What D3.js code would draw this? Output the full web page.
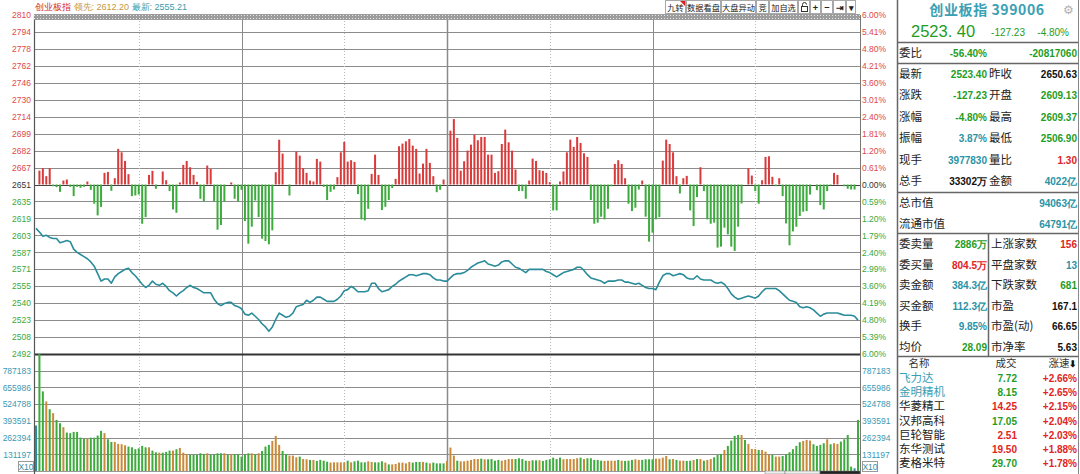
<!DOCTYPE html>
<html>
<head>
<meta charset="utf-8">
<script src="https://cdn.jsdelivr.net/npm/d3@7"></script>
<style>
  body { margin: 0; background: #fff; overflow: hidden; }
  svg text { font-family: "Liberation Sans", Arial, sans-serif; }
  svg text.cn { font-family: "Noto Sans CJK SC", sans-serif; }
</style>
</head>
<body>
<div id="chart"></div>
<script>
// ---------------- data ----------------
const prevClose = 2650.63;

// price axis labels, top to bottom
const leftLabels = ['2810','2794','2778','2762','2746','2730','2714','2699','2682','2667','2651',
                    '2635','2619','2603','2587','2571','2555','2540','2523','2508','2492'];
const rightLabels = ['6.00%','5.41%','4.80%','4.21%','3.60%','3.01%','2.40%','1.81%','1.20%','0.61%','0.00%',
                     '0.59%','1.20%','1.79%','2.40%','2.99%','3.60%','4.19%','4.80%','5.39%','6.00%'];
const volLabels = ['787183','655986','524788','393591','262394','131197'];

// one value per minute, 09:30 .. 15:00 (241 points)
const price = [
  2609.5,2606,2602,2603,2601,2600,2600,2596,2597,2598,2597,2590,2587,2585,2583,2581,2578,2574,2567,2560,
  2562,2562,2558,2564,2567,2569,2571,2572,2568,2565,2561,2557,2554,2556,2560,2557,2556,2558,2555,2551,
  2549,2546,2549,2551,2554,2556,2554,2553,2551,2549,2549,2549,2543,2539,2537,2539,2540,2540,2537,2536,
  2534,2529,2528,2530,2527,2524,2520,2517,2513,2517,2524,2530,2528,2526,2527,2530,2536,2537,2538,2542,
  2540,2542,2545,2545,2543,2541,2541,2541,2543,2546,2551,2552,2555,2553,2550,2550,2550,2551,2558,2558,
  2553,2550,2551,2552,2555,2557,2560,2562,2564,2566,2566,2565,2566,2567,2567,2566,2563,2561,2561,2560,
  2560,2563,2566,2567,2567,2568,2570,2573,2575,2577,2578,2579,2576,2575,2574,2575,2578,2579,2579,2576,
  2573,2572,2570,2568,2571,2571,2571,2571,2571,2569,2568,2566,2564,2566,2568,2569,2570,2571,2573,2573,
  2570,2566,2563,2562,2561,2560,2558,2560,2560,2560,2561,2561,2559,2559,2558,2557,2558,2556,2554,2553,
  2553,2552,2559,2565,2567,2567,2565,2566,2567,2566,2563,2562,2562,2565,2562,2561,2561,2561,2559,2558,
  2559,2557,2553,2548,2545,2543,2544,2545,2546,2545,2544,2546,2550,2553,2553,2553,2553,2551,2548,2545,
  2542,2541,2540,2536,2535,2536,2535,2533,2530,2527,2529,2530,2530,2530,2530,2529,2528,2528,2528,2527,
  2523.4
];

// red / green strength bars, index points above / below the previous close
const force = [
  0,13,15.4,7.8,15.4,-1.6,-2.5,-6.9,3.7,4.7,-2.2,-10.9,-2.2,-3.1,-2.2,2.8,-5,-18,-29,-21,
  10.9,11.8,-5.9,5.9,33.4,30.2,22.1,9.7,-10.9,-10.3,-9.4,-36.8,-30.6,9,12.8,-4,0,12.2,4,-6.2,
  -23.4,-26.5,1.9,18.4,22.1,16.2,9,2.5,-13.4,-15.9,17.8,14.6,-15.9,-42.4,-38,-15.9,0,1.9,-13.4,-15.9,
  -5,-34.3,-55.5,-39.6,-15,-30.6,-50.8,-53,-56.1,-43,11.5,42,29,0,-10.3,0,30.9,27.1,15.3,10.9,
  3.7,2.8,24,21.5,-2.2,-14.6,-6.9,-4.7,6.9,30.2,40,21.5,22.8,21.2,-9,-32.7,-33.7,-22.8,10,28,
  9,-24,-20.9,-14.6,-3.4,5.3,35.9,38.4,40.5,42.7,36.5,33.4,10.3,19.6,33.4,20.3,7.8,-7.2,-5,4.7,
  0,50.5,61.4,43.7,13,21.8,31.8,37.4,46.8,41.5,44.6,44.6,28,28,10.9,12.5,38,51.5,39.6,31.8,
  14,-6.2,-6.2,-13.4,3.7,24.3,22.1,13.4,12.8,10.9,2.2,-24.3,-24.3,2.8,12.2,30.2,42.1,35.3,44.6,39,
  29.3,25.9,-14.6,-36.8,-35.8,-30.2,-32.7,-22.8,-1.6,19.3,22.8,19.3,5.9,-18,-24.9,-21.8,-4.7,3.7,-30.2,-53.6,
  -45.2,-32.7,-30.6,22.4,42.1,38,30.2,7.8,-8.4,5.9,8.1,-24.3,-39,-11.8,16.2,-6.2,-32.7,-36.8,-35.8,-59.2,
  -58.3,-40.5,-46.8,-58.3,-62.3,-39.6,-17.8,0,15.3,8.4,-6.2,-18,4,25.9,26.5,7.2,-1.6,5.9,-10.9,-36.5,
  -57,-44,-39.6,-29.6,-25.5,-24.9,-9.4,0,-5.3,-19.3,-23.4,-6.2,-0.9,10.9,9,0,-1.6,-4,-4.7,-4.7,
  0
];

// volume per minute, thousands (axis shows x10)
const volume = [
  357,918,625,546,485,454,401,375,344,302,297,307,307,262,252,252,262,262,278,315,
  297,249,228,228,213,210,202,192,186,171,178,197,186,186,160,147,144,144,150,160,
  160,171,181,144,134,126,126,126,139,134,139,126,131,139,139,139,126,131,131,131,
  113,131,139,139,131,139,157,192,205,236,276,205,157,134,121,121,108,113,94,92,
  87,87,79,87,81,73,66,68,68,68,68,81,68,76,81,68,68,76,71,68,
  68,76,66,52,52,55,66,66,60,71,66,71,71,71,66,60,66,60,60,60,
  79,184,121,81,76,76,81,87,94,94,97,92,92,94,81,87,81,87,94,94,
  94,100,94,81,79,84,84,84,79,87,92,105,94,105,92,94,94,94,100,105,
  94,100,100,87,87,81,79,81,81,81,87,81,79,81,87,92,87,87,92,92,
  92,97,97,105,118,92,94,87,81,81,79,81,87,94,94,81,87,94,108,126,
  134,165,197,239,276,283,283,244,213,173,173,165,165,152,126,126,113,113,118,131,
  147,171,197,226,236,244,239,210,197,205,218,249,210,218,213,231,249,283,34,21,
  401
];
// 1 = up minute, -1 = down minute, 0 = flat
const volDir = [
  0,-1,-1,1,-1,1,-1,-1,1,-1,-1,-1,-1,-1,-1,1,-1,-1,-1,-1,
  1,-1,-1,1,1,1,1,-1,-1,-1,-1,-1,-1,1,-1,-1,1,-1,-1,-1,
  1,-1,1,1,1,-1,-1,-1,-1,-1,1,-1,-1,-1,-1,1,-1,1,-1,-1,
  -1,-1,-1,1,-1,1,-1,-1,-1,1,1,1,-1,-1,1,1,1,-1,1,1,
  -1,1,-1,-1,-1,-1,1,1,1,1,1,-1,1,-1,-1,-1,-1,1,1,-1,
  -1,-1,1,-1,1,1,1,1,1,1,-1,-1,-1,1,-1,1,-1,-1,-1,-1,
  1,1,1,-1,1,1,1,1,1,1,-1,1,-1,-1,-1,-1,1,1,1,1,
  -1,-1,-1,-1,1,-1,-1,1,-1,-1,-1,-1,-1,-1,1,1,1,1,1,-1,
  1,-1,-1,-1,-1,-1,1,1,1,1,-1,1,-1,-1,-1,1,1,-1,-1,-1,
  -1,1,1,1,1,-1,1,-1,1,1,-1,-1,1,-1,1,-1,1,1,-1,-1,
  -1,1,-1,-1,-1,-1,1,-1,1,1,1,-1,1,1,1,-1,1,1,-1,-1,
  -1,-1,-1,-1,1,1,1,-1,-1,-1,-1,1,-1,1,1,-1,-1,-1,-1,0,
  -1
];

const headName = '创业板指', headLeader = '领先: 2612.20', headLast = '最新: 2555.21';
const toolButtons = ['九转','数据看盘','大盘异动','竞','加自选','','+','−','⇥','▾'];

// quote panel
const quoteTitle = '创业板指 399006';
const quoteLast = '2523. 40', quoteChg = '-127.23', quotePct = '-4.80%';
const weibi = ['委比', '-56.40%', '-20817060'];
const quoteRows = [
  ['最新','2523.40','down','昨收','2650.63','plain'],
  ['涨跌','-127.23','down','开盘','2609.13','down'],
  ['涨幅','-4.80%','down','最高','2609.37','down'],
  ['振幅','3.87%','info','最低','2506.90','down'],
  ['现手','3977830','info','量比','1.30','up'],
  ['总手','33302万','plain','金额','4022亿','info']
];
const capRows = [['总市值','94063亿'], ['流通市值','64791亿']];
const orderRows = [
  ['委卖量','2886万','down','上涨家数','156','up'],
  ['委买量','804.5万','up','平盘家数','13','info'],
  ['卖金额','384.3亿','info','下跌家数','681','down'],
  ['买金额','112.3亿','info','市盈','167.1','plain'],
  ['换手','9.85%','info','市盈(动)','66.65','plain'],
  ['均价','28.09','down','市净率','5.63','plain']
];
const listHeader = ['名称','成交','涨速'];
const stockNames  = ['飞力达','金明精机','华菱精工','汉邦高科','巨轮智能','东华测试','麦格米特'];
const stockPrices = ['7.72','8.15','14.25','17.05','2.51','19.50','29.70'];
const stockSpeeds = ['+2.66%','+2.65%','+2.15%','+2.04%','+2.03%','+1.88%','+1.78%'];
const stockPriceDir = ['down','down','up','down','up','up','down'];
const stockWatched = [true, true, false, false, false, false, false];

// ---------------- drawing ----------------
const W = 1080, H = 474;
const C = {
  up: '#e02424', down: '#1f9d1f', info: '#2a93a6', plain: '#111',
  grid: '#8c8c8c', line: '#2a8c9a', barUp: '#d93a3a', barDown: '#3dab3d',
  volUp: '#c98a3a', volDown: '#3dab3d', volFlat: '#2a8aa0'
};

const svg = d3.select('#chart').append('svg')
  .attr('width', W).attr('height', H)
  .style('display', 'block');

const plotL = 34, plotR = 860, priceTop = 15, priceBot = 354, volBot = 471;

const x = d3.scaleLinear().domain([0, 240]).range([36, 858]);
const yP = d3.scaleLinear().domain([prevClose * 0.94, prevClose * 1.06]).range([priceBot, priceTop]);
const yV = d3.scaleLinear().domain([0, 7 * 131.197]).range([volBot, priceBot]);

const levels = d3.range(10, -11, -1).map(k => prevClose * (1 + k * 0.006));
const volLevels = volLabels.map(d => +d / 1000);

// grid
const grid = svg.append('g');
grid.selectAll('line.h').data(levels).join('line')
  .attr('x1', plotL).attr('x2', plotR)
  .attr('y1', d => Math.round(yP(d)) + 0.5).attr('y2', d => Math.round(yP(d)) + 0.5)
  .attr('stroke', (d, i) => i === 10 ? '#444' : C.grid).attr('stroke-width', 1);
grid.selectAll('line.v').data(volLevels).join('line')
  .attr('x1', plotL).attr('x2', plotR)
  .attr('y1', d => Math.round(yV(d)) + 0.5).attr('y2', d => Math.round(yV(d)) + 0.5)
  .attr('stroke', C.grid);

// time grid: solid on the hour, dotted on the half hour
const timeMarks = [30, 60, 90, 120, 150, 180, 210];
grid.selectAll('line.t').data(timeMarks).join('line')
  .attr('x1', d => Math.round(x(d)) + 0.5).attr('x2', d => Math.round(x(d)) + 0.5)
  .attr('y1', priceTop).attr('y2', volBot)
  .attr('stroke', d => d % 60 === 0 ? '#8a8a8a' : '#b8b8b8')
  .attr('stroke-width', d => d === 120 ? 1.5 : 1)
  .attr('stroke-dasharray', d => d % 60 === 0 ? null : '1,2');

// panel divider and borders
svg.append('line').attr('x1', plotL).attr('x2', plotR).attr('y1', priceBot + 0.5).attr('y2', priceBot + 0.5)
  .attr('stroke', '#333').attr('stroke-width', 2);
svg.append('line').attr('x1', plotL).attr('x2', plotR).attr('y1', volBot + 0.5).attr('y2', volBot + 0.5)
  .attr('stroke', '#999');
svg.append('line').attr('x1', plotL + 0.5).attr('x2', plotL + 0.5).attr('y1', priceTop).attr('y2', H)
  .attr('stroke', '#555').attr('stroke-width', 1.2);
svg.append('line').attr('x1', plotR + 0.5).attr('x2', plotR + 0.5).attr('y1', priceTop).attr('y2', H)
  .attr('stroke', '#777');
// dotted top border band
svg.append('rect').attr('x', plotL).attr('y', 14).attr('width', plotR - plotL).attr('height', 6).attr('fill', '#9c9c9c');
[15.5, 18.5].forEach(yy => svg.append('line').attr('x1', plotL).attr('x2', plotR)
  .attr('y1', yy).attr('y2', yy).attr('stroke', '#e8e8e8').attr('stroke-dasharray', '1,2'));

// strength bars
svg.append('g').selectAll('rect').data(force).join('rect')
  .attr('x', (d, i) => x(i) - 1)
  .attr('y', d => Math.min(yP(prevClose + d), yP(prevClose)))
  .attr('width', 2)
  .attr('height', d => Math.abs(yP(prevClose + d) - yP(prevClose)))
  .attr('fill', d => d >= 0 ? C.barUp : C.barDown);

// volume bars
svg.append('g').selectAll('rect').data(volume).join('rect')
  .attr('x', (d, i) => x(i) - 1)
  .attr('y', d => yV(d))
  .attr('width', 2)
  .attr('height', d => yV(0) - yV(d))
  .attr('fill', (d, i) => volDir[i] > 0 ? C.volUp : volDir[i] < 0 ? C.volDown : C.volFlat);

// price line
svg.append('path').datum(price)
  .attr('fill', 'none').attr('stroke', C.line).attr('stroke-width', 1.6)
  .attr('stroke-linejoin', 'round')
  .attr('d', d3.line().x((d, i) => x(i)).y(d => yP(d)));

// axes
const levelColor = i => i < 10 ? '#e0484a' : i === 10 ? '#333' : '#3aa83a';
const axL = svg.append('g').attr('transform', `translate(${plotL - 1},0)`)
  .call(d3.axisLeft(yP).tickValues(levels).tickFormat((d, i) => leftLabels[i]).tickSize(0).tickPadding(2));
const axR = svg.append('g').attr('transform', `translate(${plotR + 1},0)`)
  .call(d3.axisRight(yP).tickValues(levels).tickFormat((d, i) => rightLabels[i]).tickSize(0).tickPadding(1));
[axL, axR].forEach(ax => {
  ax.select('.domain').remove();
  ax.selectAll('text').attr('font-size', 8.5).attr('font-family', '"Liberation Sans", Arial, sans-serif')
    .attr('fill', (d, i) => levelColor(i));
});
const vaL = svg.append('g').attr('transform', `translate(${plotL - 1},0)`)
  .call(d3.axisLeft(yV).tickValues(volLevels).tickFormat((d, i) => volLabels[i]).tickSize(0).tickPadding(2));
const vaR = svg.append('g').attr('transform', `translate(${plotR + 1},0)`)
  .call(d3.axisRight(yV).tickValues(volLevels).tickFormat((d, i) => volLabels[i]).tickSize(0).tickPadding(1));
[vaL, vaR].forEach(ax => {
  ax.select('.domain').remove();
  ax.selectAll('text').attr('font-size', 8.5).attr('font-family', '"Liberation Sans", Arial, sans-serif')
    .attr('fill', '#3a9ab4');
});

// "X10" boxes
[18, 862].forEach(bx => {
  svg.append('rect').attr('x', bx + 0.5).attr('y', 461.5).attr('width', 15).attr('height', 10)
    .attr('fill', '#fff').attr('stroke', '#999');
  svg.append('text').attr('x', bx + 8).attr('y', 470).attr('text-anchor', 'middle')
    .attr('font-size', 8.5).attr('fill', '#3a8aa0').text('X10');
});
// cursor time boxes at the bottom edge
[[765, 20, '#eee'], [785, 35, '#eee'], [820, 40, '#222']].forEach(([bx, bw, f]) =>
  svg.append('rect').attr('x', bx).attr('y', 471).attr('width', bw).attr('height', 3)
    .attr('fill', f).attr('stroke', '#777').attr('stroke-width', 0.5));

// header line of the chart
const head = svg.append('text').attr('x', 35).attr('y', 10).attr('font-size', 9);
head.append('tspan').attr('class', 'cn').attr('fill', '#d02a2a').text(headName + ' ');
head.append('tspan').attr('class', 'cn').attr('fill', '#c8963c').text(headLeader + ' ');
head.append('tspan').attr('class', 'cn').attr('fill', '#3a9aa8').text(headLast);

// toolbar buttons
const btnWidths = [21, 35, 35, 13, 29, 12, 11, 12, 13, 10];
let bx = 665;
const tb = svg.append('g');
toolButtons.forEach((t, i) => {
  const w = btnWidths[i];
  tb.append('rect').attr('x', bx + 0.5).attr('y', 0.5).attr('width', w - 1).attr('height', 13)
    .attr('fill', '#fff').attr('stroke', '#a8a8a8');
  if (t) tb.append('text').attr('class', 'cn').attr('x', bx + w / 2).attr('y', 10.5)
    .attr('text-anchor', 'middle').attr('font-size', (i >= 6 ? 9 : 8.2))
    .attr('font-weight', i >= 6 ? 'bold' : 'normal').attr('fill', '#222').text(t);
  if (i === 0) tb.append('path').attr('d', `M${bx + w - 6},1 L${bx + w - 1},1 L${bx + w - 1},6 Z`).attr('fill', '#e02020');
  if (i === 5) {
    tb.append('rect').attr('x', bx + 3.5).attr('y', 6.5).attr('width', 6).attr('height', 5).attr('fill', 'none').attr('stroke', '#333');
    tb.append('path').attr('d', `M${bx + 4.5},6.5 V4.5 A2,2 0 0 1 ${bx + 8.5},4.5`).attr('fill', 'none').attr('stroke', '#333');
  }
  bx += w;
});

// ---------------- quote panel ----------------
const P = svg.append('g');
const pL = 897.5, pR = 1078.5;
P.append('line').attr('x1', pL).attr('x2', pL).attr('y1', 0).attr('y2', H).attr('stroke', '#666').attr('stroke-width', 1.5);
P.append('line').attr('x1', pR).attr('x2', pR).attr('y1', 0).attr('y2', H).attr('stroke', '#888');
[42, 63, 192, 233, 356].forEach(yy => P.append('line').attr('x1', pL).attr('x2', pR)
  .attr('y1', yy + 0.5).attr('y2', yy + 0.5).attr('stroke', '#666').attr('stroke-width', 1.5));
P.append('line').attr('x1', 988.5).attr('x2', 988.5).attr('y1', 233).attr('y2', 356).attr('stroke', '#666').attr('stroke-width', 1.5);

P.append('text').attr('class', 'cn').attr('x', 987).attr('y', 15).attr('text-anchor', 'middle')
  .attr('font-size', 14).attr('font-weight', 'bold').attr('fill', '#3aa0b4').attr('letter-spacing', 0.6).text(quoteTitle);
P.append('text').attr('x', 1068).attr('y', 14).attr('text-anchor', 'middle').attr('font-family', '"DejaVu Sans"')
  .attr('font-size', 12).attr('fill', '#b0b0b0').text('⚙');
P.append('text').attr('x', 911).attr('y', 37).attr('font-size', 16.5).attr('fill', C.down).text(quoteLast);
P.append('text').attr('x', 1025).attr('y', 36).attr('text-anchor', 'end').attr('font-size', 10).attr('fill', C.down).text(quoteChg);
P.append('text').attr('x', 1069).attr('y', 36).attr('text-anchor', 'end').attr('font-size', 10).attr('fill', C.down).text(quotePct);

function label(x0, y0, t) {
  P.append('text').attr('class', 'cn').attr('x', x0).attr('y', y0).attr('font-size', 11.5).attr('fill', '#222').text(t);
}
function value(x0, y0, t, tone) {
  P.append('text').attr('x', x0).attr('y', y0).attr('text-anchor', 'end').attr('font-size', 10)
    .attr('font-weight', 'bold').attr('fill', C[tone]).text(t);
}

label(899, 57, weibi[0]);
value(987, 57, weibi[1], 'down');
value(1077, 57, weibi[2], 'down');

quoteRows.forEach((r, i) => {
  const yy = 78 + i * 21.4;
  label(899, yy, r[0]); value(987, yy, r[1], r[2]);
  label(989, yy, r[3]); value(1077, yy, r[4], r[5]);
});
capRows.forEach((r, i) => {
  const yy = 207 + i * 21;
  label(899, yy, r[0]); value(1077, yy, r[1], 'info');
});
orderRows.forEach((r, i) => {
  const yy = 248 + i * 20.6;
  label(899, yy, r[0]); value(987, yy, r[1], r[2]);
  label(991, yy, r[3]); value(1077, yy, r[4], r[5]);
});

// stock list
[[919, 0], [1006, 1], [1059, 2]].forEach(([hx, k]) =>
  P.append('text').attr('class', 'cn').attr('x', hx).attr('y', 367).attr('text-anchor', 'middle')
    .attr('font-size', 10.5).attr('fill', '#333').text(listHeader[k]));
P.append('text').attr('x', 1073).attr('y', 367).attr('text-anchor', 'middle').attr('font-family', '"DejaVu Sans"')
  .attr('font-size', 9).attr('font-weight', 'bold').attr('fill', '#111').text('⬇');

stockNames.forEach((n, i) => {
  const yy = 382 + i * 14.2;
  P.append('text').attr('class', 'cn').attr('x', 899).attr('y', yy).attr('font-size', 11.5)
    .attr('fill', stockWatched[i] ? '#3aa0b4' : '#222').text(n);
  value(1017, yy, stockPrices[i], stockPriceDir[i]);
  value(1077, yy, stockSpeeds[i], 'up');
});
</script>
</body>
</html>
